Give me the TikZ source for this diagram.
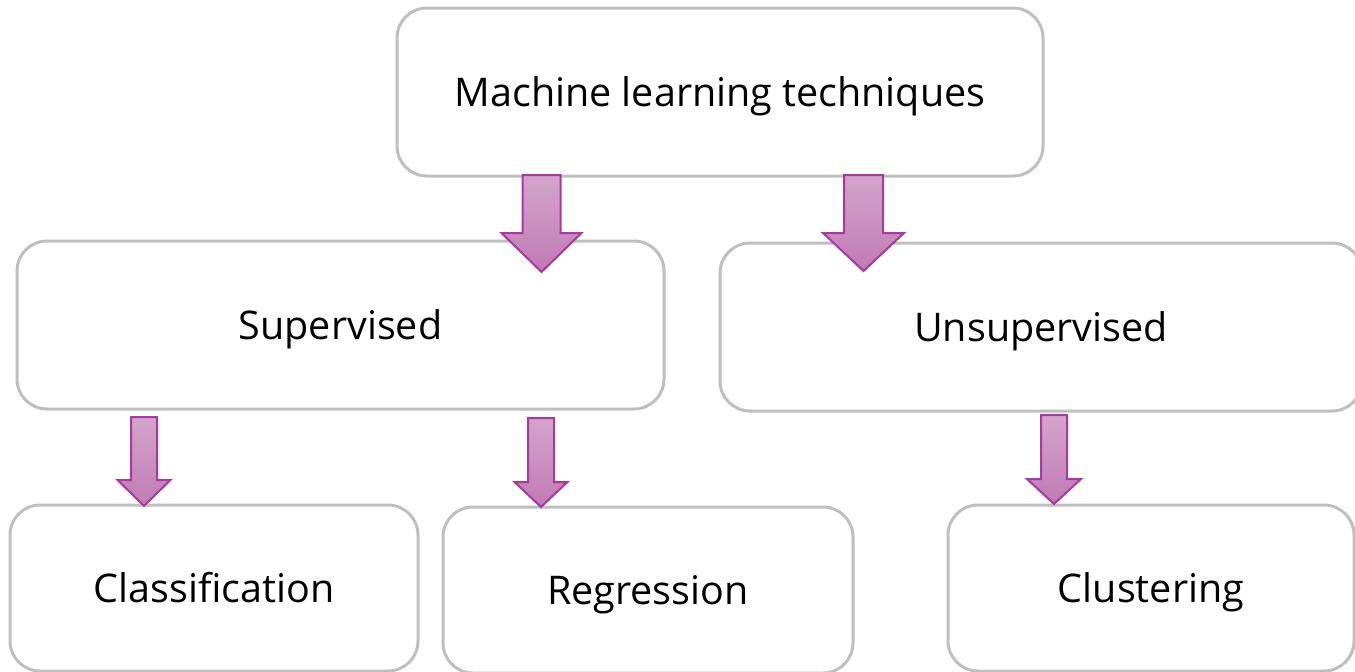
\documentclass[tikz,border=0pt]{standalone}
\usepackage{fontspec}
\setmainfont{Open Sans}
\definecolor{boxline}{HTML}{BFBFBF}
\definecolor{arrline}{HTML}{A53AA0}
\definecolor{arrtop}{HTML}{D4A4CC}
\definecolor{arrbot}{HTML}{C07AB4}
\tikzset{
  box/.style={draw=boxline, line width=3pt, rounded corners=30pt, fill=white,
    inner sep=0pt, font=\fontsize{39.5}{44}\selectfont,
    text height=28.2pt, text depth=0pt},
  blockarrow/.style={draw=arrline, line width=2pt, line join=miter,
    top color=arrtop, bottom color=arrbot}
}
% block arrow: centre x, half shaft width, top y, half head width, head base y, tip y
\newcommand\blockarr[6]{%
  \draw[blockarrow] ({#1-#2},#3) -- ({#1+#2},#3) -- ({#1+#2},#5) -- ({#1+#4},#5)
    -- (#1,#6) -- ({#1-#4},#5) -- ({#1-#2},#5) -- cycle;}
\begin{document}
\begin{tikzpicture}[x=1pt,y=-1pt]
\useasboundingbox (0,0) rectangle (1355,672);
\clip (0,0) rectangle (1355,672);
% boxes
\node[box, minimum width=646pt, minimum height=168pt] (ml) at (720,92) {Machine learning techniques};
\node[box, minimum width=647pt, minimum height=168pt] (sup) at (340.5,325) {Supervised};
\node[box, minimum width=642pt, minimum height=168pt] (uns) at (1041,327) {Unsupervised};
\node[box, minimum width=408pt, minimum height=166pt] (cls) at (214,588) {Classification};
\node[box, minimum width=410pt, minimum height=166pt] (reg) at (648,590) {Regression};
\node[box, minimum width=406pt, minimum height=166pt] (clu) at (1151,588) {Clustering};
% arrows
\blockarr{541.5}{19}{175}{40}{233}{272}
\blockarr{863.5}{19.5}{175}{40.5}{233}{271}
\blockarr{144}{13}{417}{26.5}{480}{506}
\blockarr{541}{13}{418}{26.5}{482}{507}
\blockarr{1054}{13}{415}{27}{479}{504}
\end{tikzpicture}
\end{document}
